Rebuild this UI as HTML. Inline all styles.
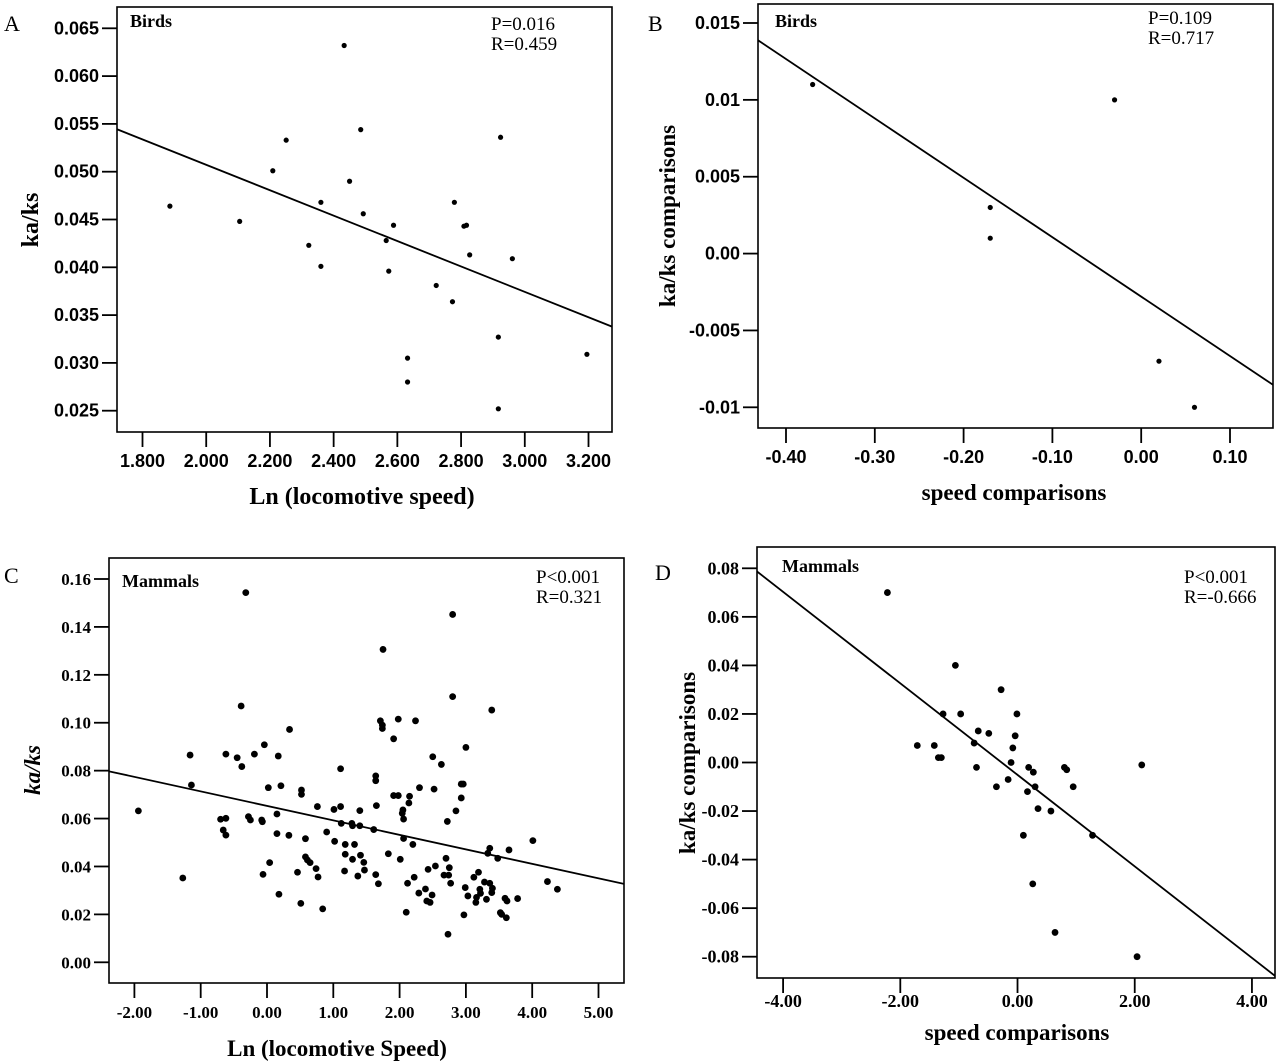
<!DOCTYPE html>
<html><head><meta charset="utf-8">
<style>
html,body{margin:0;padding:0;background:#fff;}
svg{display:block;}
</style></head>
<body>
<svg id="fig" width="1280" height="1063" viewBox="0 0 1280 1063" xmlns="http://www.w3.org/2000/svg"></svg>
<script>
// ---- Panel A data ----
const aX = [1.886,2.105,2.209,2.251,2.322,2.360,2.360,2.433,2.450,2.485,2.493,2.565,2.573,2.588,2.632,2.632,2.722,2.773,2.779,2.809,2.817,2.827,2.917,2.924,2.961,2.917,3.195];
const aY = [0.0464,0.0448,0.0501,0.0533,0.0423,0.0468,0.0401,0.0632,0.0490,0.0544,0.0456,0.0428,0.0396,0.0444,0.0305,0.0280,0.0381,0.0364,0.0468,0.0443,0.0444,0.0413,0.0327,0.0536,0.0409,0.0252,0.0309];
const aFit = [0.0773,-0.01329];
const aXTicks = [1.8,2.0,2.2,2.4,2.6,2.8,3.0,3.2];
const aXTickLabels = ["1.800","2.000","2.200","2.400","2.600","2.800","3.000","3.200"];
const aYTicks = [0.065,0.060,0.055,0.050,0.045,0.040,0.035,0.030,0.025];
const aYTickLabels = ["0.065","0.060","0.055","0.050","0.045","0.040","0.035","0.030","0.025"];
// ---- Panel B data ----
const bX = [-0.37,-0.17,-0.17,-0.03,0.02,0.06];
const bY = [0.011,0.003,0.001,0.010,-0.007,-0.010];
const bFit = [-0.0028,-0.03865];
const bXTicks = [-0.4,-0.3,-0.2,-0.1,0,0.1];
const bXTickLabels = ["-0.40","-0.30","-0.20","-0.10","0.00","0.10"];
const bYTicks = [0.015,0.01,0.005,0,-0.005,-0.01];
const bYTickLabels = ["0.015","0.01","0.005","0.00","-0.005","-0.01"];
// ---- Panel C data ----
const cX = [-1.94,-1.27,-1.16,-1.14,-0.70,-0.66,-0.62,-0.62,-0.62,-0.45,
-0.39,-0.38,-0.32,-0.28,-0.25,-0.19,-0.08,-0.07,-0.06,-0.04,
0.02,0.04,0.15,0.15,0.17,0.18,0.21,0.33,0.34,0.46,
0.51,0.52,0.52,0.58,0.58,0.61,0.65,0.74,0.76,0.77,
0.84,0.90,1.01,1.02,1.11,1.11,1.12,1.17,1.18,1.18,
1.28,1.29,1.29,1.32,1.37,1.40,1.40,1.41,1.46,1.47,
1.61,1.64,1.64,1.64,1.65,1.68,1.71,1.74,1.74,1.75,
1.83,1.91,1.91,1.98,1.98,2.01,2.04,2.05,2.06,2.06,
2.10,2.12,2.14,2.15,2.20,2.22,2.24,2.29,2.30,2.39,
2.41,2.43,2.46,2.49,2.50,2.52,2.54,2.63,2.67,2.70,
2.72,2.73,2.74,2.75,2.77,2.80,2.80,2.85,2.93,2.93,
2.96,2.97,2.99,3.00,3.03,3.12,3.15,3.16,3.19,3.21,
3.22,3.28,3.31,3.33,3.36,3.36,3.39,3.39,3.40,3.48,
3.52,3.54,3.59,3.61,3.62,3.65,3.78,4.01,4.23,4.38];
const cY = [0.0632,0.0352,0.0865,0.0740,0.0597,0.0552,0.0601,0.0531,0.0869,0.0854,
0.1070,0.0817,0.1543,0.0608,0.0594,0.0869,0.0594,0.0587,0.0367,0.0908,
0.0729,0.0416,0.0619,0.0537,0.0861,0.0284,0.0737,0.0530,0.0972,0.0376,
0.0246,0.0719,0.0701,0.0516,0.0440,0.0427,0.0416,0.0391,0.0650,0.0356,
0.0223,0.0544,0.0638,0.0505,0.0808,0.0650,0.0580,0.0381,0.0492,0.0451,
0.0580,0.0430,0.0570,0.0492,0.0360,0.0570,0.0633,0.0447,0.0417,0.0385,
0.0554,0.0366,0.0778,0.0758,0.0654,0.0328,0.1008,0.0990,0.0976,0.1306,
0.0453,0.0933,0.0696,0.0696,0.1015,0.0430,0.0622,0.0636,0.0598,0.0517,
0.0209,0.0330,0.0665,0.0693,0.0492,0.0355,0.1008,0.0289,0.0729,0.0306,
0.0256,0.0388,0.0250,0.0281,0.0858,0.0723,0.0402,0.0826,0.0364,0.0434,
0.0588,0.0117,0.0364,0.0395,0.0330,0.1452,0.1109,0.0632,0.0686,0.0744,
0.0744,0.0198,0.0312,0.0897,0.0277,0.0355,0.0250,0.0271,0.0376,0.0305,
0.0288,0.0335,0.0263,0.0455,0.0476,0.0330,0.0291,0.1053,0.0309,0.0434,
0.0207,0.0200,0.0267,0.0186,0.0256,0.0469,0.0266,0.0508,0.0337,0.0305];
const cFit = [0.0653,-0.00605];
const cXTicks = [-2,-1,0,1,2,3,4,5];
const cXTickLabels = ["-2.00","-1.00","0.00","1.00","2.00","3.00","4.00","5.00"];
const cYTicks = [0.16,0.14,0.12,0.10,0.08,0.06,0.04,0.02,0.00];
const cYTickLabels = ["0.16","0.14","0.12","0.10","0.08","0.06","0.04","0.02","0.00"];
// ---- Panel D data ----
const dX = [-2.22,-1.71,-1.42,-1.35,-1.30,-1.27,-1.06,-0.97,-0.74,-0.70,-0.67,-0.49,-0.36,-0.28,-0.16,-0.11,-0.08,-0.04,-0.01,0.10,0.17,0.19,0.26,0.27,0.30,0.35,0.57,0.64,0.80,0.84,0.95,1.28,2.04,2.12];
const dY = [0.070,0.007,0.007,0.002,0.002,0.020,0.040,0.020,0.008,-0.002,0.013,0.012,-0.010,0.030,-0.007,0.000,0.006,0.011,0.020,-0.030,-0.012,-0.002,-0.050,-0.004,-0.010,-0.019,-0.020,-0.070,-0.002,-0.003,-0.010,-0.030,-0.080,-0.001];
const dFit = [-0.0051,-0.01885];
const dXTicks = [-4,-2,0,2,4];
const dXTickLabels = ["-4.00","-2.00","0.00","2.00","4.00"];
const dYTicks = [0.08,0.06,0.04,0.02,0,-0.02,-0.04,-0.06,-0.08];
const dYTickLabels = ["0.08","0.06","0.04","0.02","0.00","-0.02","-0.04","-0.06","-0.08"];

const NS = "http://www.w3.org/2000/svg";
const svg = document.getElementById('fig');
function mk(tag, attrs, parent, text){
  const e = document.createElementNS(NS, tag);
  for (const k in attrs) e.setAttribute(k, attrs[k]);
  if (text !== undefined) e.textContent = text;
  (parent||svg).appendChild(e);
  return e;
}
function linear(d0,d1,r0,r1){ return v => r0 + (v-d0)/(d1-d0)*(r1-r0); }

function panel(p){
  const g = mk('g',{});
  
  
  const sx = linear(p.xr[0],p.xr[1],p.xp[0],p.xp[1]);
  const sxInv = linear(p.xp[0],p.xp[1],p.xr[0],p.xr[1]);
  const sy = linear(p.yr[0],p.yr[1],p.yp[0],p.yp[1]);
  const L=p.box[0],T=p.box[1],R=p.box[2],B=p.box[3];
  const frame = mk('rect',{x:L,y:T,width:R-L,height:B-T,fill:'none',stroke:'#000','stroke-width':1.6},g);
  
  
  p.yt.forEach((v,i)=>{
    const y = sy(v);
    const t = mk('line',{x1:L-15,x2:L,y1:y,y2:y,stroke:'#000','stroke-width':1.8},g);
    
    
    const lb = mk('text',{x:L-18,y:y+6,'text-anchor':'end','font-family':p.tickFont,'font-weight':'bold','font-size':p.tickSize},g,p.ytl[i]);
    
    
  });
  p.xt.forEach((v,i)=>{
    const x = sx(v);
    const t = mk('line',{x1:x,x2:x,y1:B,y2:B+15,stroke:'#000','stroke-width':1.8},g);
    
    
    const lb = mk('text',{x:x,y:B+p.xlabOff,'text-anchor':'middle','font-family':p.tickFont,'font-weight':'bold','font-size':p.tickSize},g,p.xtl[i]);
    
    
  });
  const cid = p.name+'-clip';
  const cp = mk('clipPath',{id:cid},g);
  mk('rect',{x:L,y:T,width:R-L,height:B-T},cp);
  const x0=sxInv(L), x1=sxInv(R);
  const fl = mk('line',{x1:sx(x0),y1:sy(p.fit[0]+p.fit[1]*x0),x2:sx(x1),y2:sy(p.fit[0]+p.fit[1]*x1),stroke:'#000','stroke-width':1.8,'clip-path':'url(#'+cid+')'},g);
  
  
  p.xs.forEach((v,i)=>{
    const c = mk('circle',{cx:sx(v),cy:sy(p.ys[i]),r:p.r,fill:'#000'},g);
    
    
  });
  const tf = '"Liberation Serif", serif';
  const letter = mk('text',{x:p.letter[0],y:p.letter[1],'font-family':tf,'font-size':22},g,p.letterText);
  
  
  const grp = mk('text',{x:p.group[0],y:p.group[1],'font-family':tf,'font-weight':'bold','font-size':18},g,p.groupText);
  
  
  const s1 = mk('text',{x:p.stat[0],y:p.stat[1],'font-family':tf,'font-size':19},g,p.statP);
  
  
  const s2 = mk('text',{x:p.stat[0],y:p.stat[1]+20,'font-family':tf,'font-size':19},g,p.statR);
  
  
  const xt = mk('text',{x:p.xtitle[0],y:p.xtitle[1],'text-anchor':'middle','font-family':tf,'font-weight':'bold','font-size':p.titleSize},g,p.xtitleText);
  
  
  const yt = mk('text',{x:0,y:0,'text-anchor':'middle','font-family':tf,'font-weight':'bold','font-size':p.titleSize,'font-style':p.yItalic?'italic':'normal',transform:'translate('+p.ytitle[0]+','+p.ytitle[1]+') rotate(-90)'},g,p.ytitleText);
  
  
}
const arial='"Liberation Sans", Arial, sans-serif', times='"Liberation Serif", serif';
panel({name:'panel-a',box:[117,7,612,432],xr:[1.8,3.2],xp:[142.5,588.5],yr:[0.065,0.025],yp:[28.3,410.7],
  xs:aX,ys:aY,fit:aFit,xt:aXTicks,xtl:aXTickLabels,yt:aYTicks,ytl:aYTickLabels,r:2.6,tickFont:arial,tickSize:18,xlabOff:35,titleSize:24,
  letter:[4,31],letterText:'A',group:[130,27],groupText:'Birds',stat:[491,30],statP:'P=0.016',statR:'R=0.459',
  xtitle:[362,504],xtitleText:'Ln (locomotive speed)',ytitle:[38,220],ytitleText:'ka/ks'});
panel({name:'panel-b',box:[758,4,1273,428],xr:[-0.4,0.1],xp:[786,1230],yr:[0.015,-0.01],yp:[23,407.3],
  xs:bX,ys:bY,fit:bFit,xt:bXTicks,xtl:bXTickLabels,yt:bYTicks,ytl:bYTickLabels,r:2.6,tickFont:arial,tickSize:18,xlabOff:35,titleSize:23,
  letter:[648,31],letterText:'B',group:[775,27],groupText:'Birds',stat:[1148,24],statP:'P=0.109',statR:'R=0.717',
  xtitle:[1014,500],xtitleText:'speed comparisons',ytitle:[675,216],ytitleText:'ka/ks comparisons'});
panel({name:'panel-c',box:[109,558,624,983],xr:[-2,5],xp:[134.4,598.5],yr:[0,0.16],yp:[962.3,579],
  xs:cX,ys:cY,fit:cFit,xt:cXTicks,xtl:cXTickLabels,yt:cYTicks,ytl:cYTickLabels,r:3.4,tickFont:times,tickSize:17,xlabOff:35,titleSize:23,
  letter:[4,583],letterText:'C',group:[122,587],groupText:'Mammals',stat:[536,583],statP:'P<0.001',statR:'R=0.321',
  xtitle:[337,1056],xtitleText:'Ln (locomotive Speed)',ytitle:[40,770],ytitleText:'ka/ks',yItalic:true});
panel({name:'panel-d',box:[757,547,1275,978],xr:[-4.44,4.39],xp:[757.3,1274.8],yr:[0.08,-0.08],yp:[568.3,956.7],
  xs:dX,ys:dY,fit:dFit,xt:dXTicks,xtl:dXTickLabels,yt:dYTicks,ytl:dYTickLabels,r:3.4,tickFont:times,tickSize:18,xlabOff:29,titleSize:23,
  letter:[655,580],letterText:'D',group:[782,572],groupText:'Mammals',stat:[1184,583],statP:'P<0.001',statR:'R=-0.666',
  xtitle:[1017,1040],xtitleText:'speed comparisons',ytitle:[695,763],ytitleText:'ka/ks comparisons'});
</script>
</body></html>
